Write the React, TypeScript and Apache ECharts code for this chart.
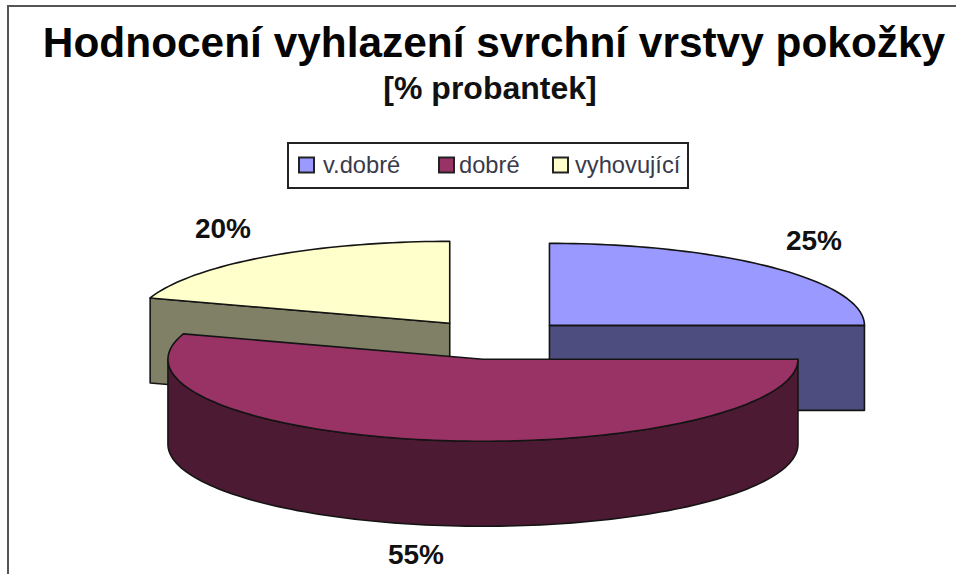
import React, { useEffect, useRef } from "react";
import * as echarts from "echarts";

const categories = ["v.dobré", "dobré", "vyhovující"];
const values = [25, 55, 20];
const topColors = ["#9999ff", "#993366", "#ffffcc"];
const wallColors = ["#4d4d80", "#4d1a33", "#808066"];
const labelSpots = [
  [814, 240],
  [416, 554],
  [223, 228],
];
const legendSwatchLeft = [298, 438, 552];
const legendTextPad = [4, 0, 2];
const drawOrder = [2, 0, 1];
const TITLE = "Hodnocení vyhlazení svrchní vrstvy pokožky";
const SUBTITLE = "[% probantek]";

const FONT = '"Liberation Sans", Arial, sans-serif';
const CX = 495;
const CY = 339.5;
const RX = 315;
const RY = 82;
const DEPTH = 85;
const EX = 77;
const EY = 20;
const STROKE = "#141414";

const total = values.reduce((a, b) => a + b, 0);
const startOf = (i: number) =>
  (values.slice(0, i).reduce((a, b) => a + b, 0) / total) * 360;

function drawSlice(i: number, value: number) {
  const s = startOf(i);
  const e = s + (value / total) * 360;
  const rad = (d: number) => (d * Math.PI) / 180;
  const mid = rad((s + e) / 2);
  const ax = CX + EX * Math.sin(mid);
  const ay = CY - EY * Math.cos(mid);
  const rim = (d: number, drop = 0) => [
    ax + RX * Math.sin(rad(d)),
    ay - RY * Math.cos(rad(d)) + drop,
  ];
  const arc = (from: number, to: number, drop = 0) => {
    const pts: number[][] = [];
    const n = Math.max(1, Math.ceil(Math.abs(to - from) / 1.5));
    for (let k = 0; k <= n; k++) pts.push(rim(from + ((to - from) * k) / n, drop));
    return pts;
  };
  const shapeStyle = (fill: string) => ({ fill, stroke: STROKE, lineWidth: 1.6, lineJoin: "round" });
  const poly = (points: number[][], fill: string) => ({
    type: "polygon",
    shape: { points },
    style: shapeStyle(fill),
  });
  const children: any[] = [];
  const face = (d: number) => {
    const p = rim(d);
    children.push(
      poly([[ax, ay], p, [p[0], p[1] + DEPTH], [ax, ay + DEPTH]], wallColors[i])
    );
  };
  if (s > 180 && s < 360) face(s);
  if (e > 0 && e <= 180) face(e);
  const f0 = Math.max(s, 90);
  const f1 = Math.min(e, 270);
  if (f1 > f0) {
    children.push(poly([...arc(f0, f1), ...arc(f1, f0, DEPTH)], wallColors[i]));
  }
  children.push(poly([[ax, ay], ...arc(s, e)], topColors[i]));
  children.push({
    type: "text",
    style: {
      text: `${value}%`,
      x: labelSpots[i][0],
      y: labelSpots[i][1],
      textAlign: "center",
      textVerticalAlign: "middle",
      font: `bold 28px ${FONT}`,
      fill: "#111",
    },
  });
  return { type: "group", children };
}

export default function App() {
  const ref = useRef<HTMLDivElement>(null);
  useEffect(() => {
    const chart = echarts.init(ref.current!, null, { renderer: "svg" });
    chart.setOption({
      animation: false,
      backgroundColor: "#ffffff",
      title: [
        {
          text: TITLE,
          left: 494,
          top: 21,
          textAlign: "center",
          padding: 0,
          textStyle: { fontFamily: FONT, fontWeight: "bold", fontSize: 42.4, color: "#050505" },
        },
        {
          text: SUBTITLE,
          left: 490,
          top: 72,
          textAlign: "center",
          padding: 0,
          textStyle: { fontFamily: FONT, fontWeight: "bold", fontSize: 32, color: "#111" },
        },
      ],
      legend: categories.map((name, i) => ({
        data: [name],
        left: legendSwatchLeft[i],
        top: 153,
        padding: 0,
        icon: "rect",
        itemWidth: 15,
        itemHeight: 15,
        itemGap: 0,
        selectedMode: false,
        itemStyle: { borderColor: "#222", borderWidth: 2 },
        textStyle: {
          fontFamily: FONT,
          fontSize: 23.7,
          color: "#3a3a4a",
          padding: [0, 0, 0, legendTextPad[i]],
        },
      })),
      graphic: [
        {
          type: "polyline",
          silent: true,
          shape: { points: [[8, 574], [8, 6], [956, 6]] },
          style: { fill: "none", stroke: "#555", lineWidth: 2 },
        },
        {
          type: "rect",
          silent: true,
          shape: { x: 288, y: 143, width: 400, height: 45 },
          style: { fill: "none", stroke: "#222", lineWidth: 2 },
        },
      ],
      series: drawOrder.map((i) => ({
        type: "custom",
        name: categories[i],
        coordinateSystem: "none",
        silent: true,
        itemStyle: { color: topColors[i] },
        data: [[values[i]]],
        renderItem: (_p: any, api: any) => drawSlice(i, api.value(0)),
      })),
    });
    return () => chart.dispose();
  }, []);
  return (
    <div
      ref={ref}
      style={{ position: "absolute", left: 0, top: 0, width: 956, height: 574 }}
    />
  );
}
